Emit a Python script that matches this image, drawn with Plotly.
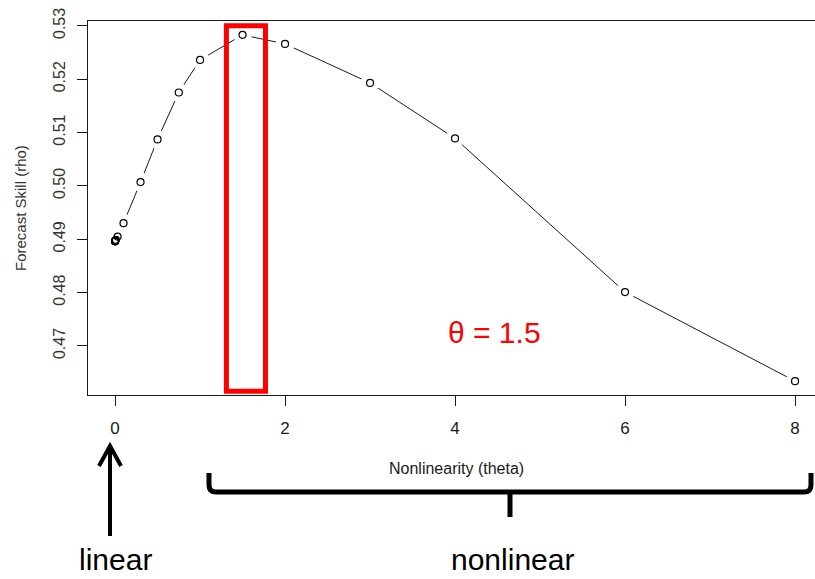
import plotly.graph_objects as go

# S-map forecast skill as a function of the nonlinearity parameter theta
theta = [0, 0.0001, 0.0003, 0.001, 0.003, 0.01, 0.03, 0.1, 0.3, 0.5, 0.75,
         1, 1.5, 2, 3, 4, 6, 8]
rho = [0.4896, 0.4896, 0.4896, 0.4897, 0.4897, 0.4899, 0.4905, 0.4930,
       0.5007, 0.5087, 0.5175, 0.5236, 0.5283, 0.5266, 0.5193, 0.5089,
       0.4801, 0.4634]

x_ticks = [0, 2, 4, 6, 8]
y_ticks = [0.47, 0.48, 0.49, 0.50, 0.51, 0.52, 0.53]
y_tick_text = ["0.47", "0.48", "0.49", "0.50", "0.51", "0.52", "0.53"]

best_theta = 1.5
best_window = [1.31, 1.77]

W, H = 815, 579
PL, PR, PT, PB = 88, 815, 21, 395


def px(x):
    return (x - PL) / (PR - PL)


def py(y):
    return (PB - y) / (PB - PT)


INK = "#1a1a1a"
NARROW = "Liberation Sans Narrow, Arial Narrow, Liberation Sans, Arial, sans-serif"
SANS = "Liberation Sans, Arial, sans-serif"

fig = go.Figure()

# connecting line, interrupted around each point (type = "b")
fig.add_trace(go.Scatter(x=theta, y=rho, mode="lines",
                         line=dict(color=INK, width=1), hoverinfo="skip"))
fig.add_trace(go.Scatter(x=theta, y=rho, mode="markers",
                         marker=dict(color="white", size=19, line=dict(width=0)),
                         hoverinfo="skip"))
fig.add_trace(go.Scatter(x=theta, y=rho, mode="markers",
                         marker=dict(symbol="circle-open", color="black", size=7,
                                     line=dict(width=1.2))))

# highlighted theta window
fig.add_shape(type="rect", xref="x", yref="y",
              x0=best_window[0], x1=best_window[1], y0=0.4615, y1=0.5300,
              line=dict(color="#ff0000", width=5), layer="above")


def label(x, y, text, size, color, family=SANS, angle=0,
          xref="paper", yref="paper"):
    fig.add_annotation(x=x, y=y, xref=xref, yref=yref, text=text,
                       showarrow=False, textangle=angle,
                       xanchor="center", yanchor="middle",
                       font=dict(family=family, size=size, color=color))


label(4.46, 0.4726, "θ = %.1f" % best_theta, 30, "#ff0000", xref="x", yref="y")

# axis titles
label(px(456), py(468), "Nonlinearity (theta)", 16, INK, family=NARROW)
label(px(20), py(208), "Forecast Skill (rho)", 15, "#333333", angle=-90)

# brace spanning the nonlinear range
bx0, bx1, bxc = 209, 811, 510
by_top, by_mid, by_tip = 473, 492, 517
r = 7
brace = (
    f"M {px(bx0)},{py(by_top)} L {px(bx0)},{py(by_mid - r)} "
    f"Q {px(bx0)},{py(by_mid)} {px(bx0 + r)},{py(by_mid)} "
    f"L {px(bx1 - r)},{py(by_mid)} "
    f"Q {px(bx1)},{py(by_mid)} {px(bx1)},{py(by_mid - r)} "
    f"L {px(bx1)},{py(by_top)}"
)
fig.add_shape(type="path", xref="paper", yref="paper", path=brace,
              line=dict(color="black", width=5))
fig.add_shape(type="path", xref="paper", yref="paper",
              path=f"M {px(bxc)},{py(by_mid)} L {px(bxc)},{py(by_tip)}",
              line=dict(color="black", width=5))

# arrow pointing at theta = 0
ax_x = 110
fig.add_shape(type="path", xref="paper", yref="paper",
              path=f"M {px(ax_x)},{py(536)} L {px(ax_x)},{py(447)}",
              line=dict(color="black", width=4))
fig.add_shape(type="path", xref="paper", yref="paper",
              path=(f"M {px(ax_x - 11)},{py(466)} L {px(ax_x)},{py(446)} "
                    f"L {px(ax_x + 11)},{py(466)}"),
              line=dict(color="black", width=4))

label(px(115), py(559.5), "linear", 30, "black")
label(px(512), py(559.5), "nonlinear", 30, "black")

fig.update_layout(
    width=W, height=H,
    margin=dict(l=PL, r=W - PR, t=PT, b=H - PB, pad=0),
    paper_bgcolor="white", plot_bgcolor="white",
    showlegend=False,
    xaxis=dict(range=[-0.318, 8.235], tickvals=x_ticks,
               ticktext=[str(v) for v in x_ticks],
               showgrid=False, zeroline=False,
               showline=True, linecolor=INK, linewidth=1, mirror=True,
               ticks="outside", ticklen=10, tickcolor=INK, tickwidth=1,
               ticklabelstandoff=8,
               tickfont=dict(family=NARROW, size=17, color=INK)),
    yaxis=dict(range=[0.4608, 0.5309], tickvals=y_ticks, ticktext=y_tick_text,
               showgrid=False, zeroline=False,
               showline=True, linecolor=INK, linewidth=1, mirror=False,
               ticks="outside", ticklen=10, tickcolor=INK, tickwidth=1,
               tickangle=-90, ticklabelstandoff=6,
               tickfont=dict(family=SANS, size=16, color="#333333")),
)

fig.write_html("out.html")
